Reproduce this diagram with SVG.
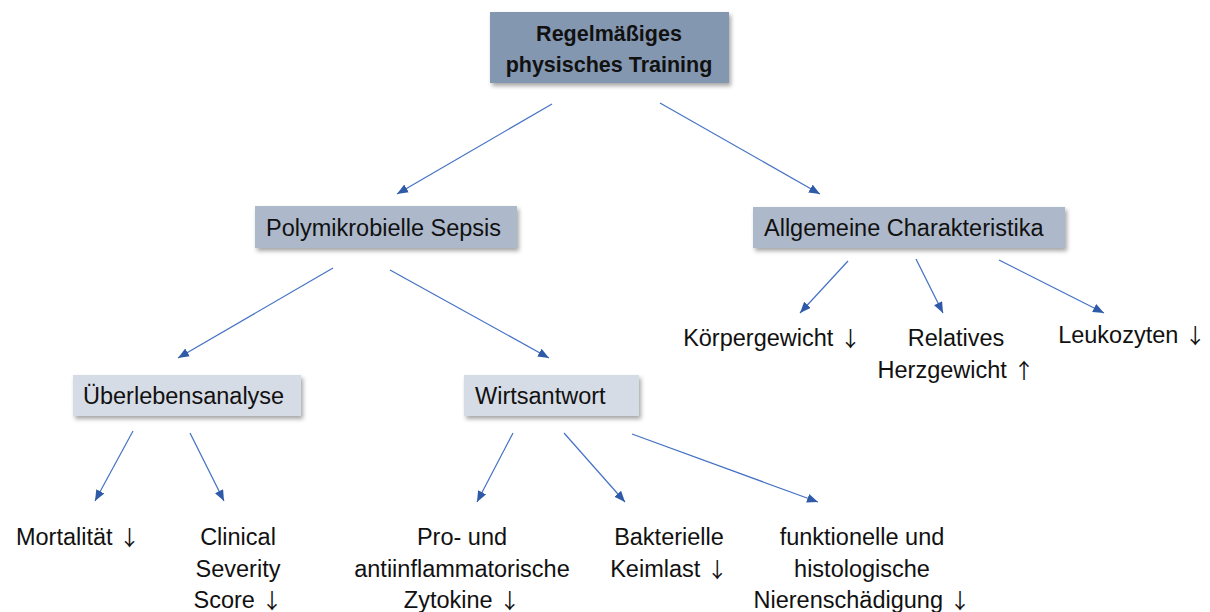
<svg xmlns="http://www.w3.org/2000/svg" width="1210" height="612" viewBox="0 0 1210 612">
<style>
.t{font-family:"Liberation Sans",Arial,sans-serif;font-size:23.5px;fill:#111}
.b{font-weight:bold;font-size:21.5px}
.c{text-anchor:middle}
.a{font-family:"Noto Sans CJK SC","DejaVu Sans",sans-serif;font-size:21px}
.l1{fill:#8497b0}
.l2{fill:#adb9ca}
.l3{fill:#d6dce5}
.conn line{stroke:#4472c4;stroke-width:1.2;marker-end:url(#ah)}
</style>
<defs>
<filter id="sh" x="-10%" y="-20%" width="125%" height="150%">
<feDropShadow dx="2" dy="3" stdDeviation="2" flood-color="#000" flood-opacity="0.35"/>
</filter>
<marker id="ah" markerUnits="userSpaceOnUse" markerWidth="12" markerHeight="10" refX="11" refY="4.5" orient="auto">
<path d="M0,0 L11,4.5 L0,9 z" fill="#2f5aa8"/>
</marker>
</defs>
<rect width="1210" height="612" fill="#fff"/>
<g id="n-training">
<rect class="l1" x="490" y="12" width="239" height="71" filter="url(#sh)"/>
<text class="t b c" x="609" y="41">Regelmäßiges</text>
<text class="t b c" x="609" y="72">physisches Training</text>
</g>
<g id="n-sepsis">
<rect class="l2" x="255" y="206" width="262" height="42" filter="url(#sh)"/>
<text class="t" x="266" y="236">Polymikrobielle Sepsis</text>
</g>
<g id="n-allgemein">
<rect class="l2" x="753" y="207" width="312" height="41" filter="url(#sh)"/>
<text class="t" x="764" y="236">Allgemeine Charakteristika</text>
</g>
<g id="n-ueberleben">
<rect class="l3" x="73" y="375" width="228" height="41" filter="url(#sh)"/>
<text class="t" x="83" y="404">Überlebensanalyse</text>
</g>
<g id="n-wirt">
<rect class="l3" x="464" y="375" width="175" height="41" filter="url(#sh)"/>
<text class="t" x="475" y="404">Wirtsantwort</text>
</g>
<g id="n-koerper"><text class="t c" x="772" y="346">Körpergewicht <tspan class="a">↓</tspan></text></g>
<g id="n-herz"><text class="t c" x="956" y="346">Relatives</text><text class="t c" x="956" y="378">Herzgewicht <tspan class="a">↑</tspan></text></g>
<g id="n-leuko"><text class="t c" x="1132" y="343">Leukozyten <tspan class="a">↓</tspan></text></g>
<g id="n-mort"><text class="t c" x="78" y="545">Mortalität <tspan class="a">↓</tspan></text></g>
<g id="n-css"><text class="t c" x="238" y="545">Clinical</text><text class="t c" x="238" y="577">Severity</text><text class="t c" x="238" y="608">Score <tspan class="a">↓</tspan></text></g>
<g id="n-zyto"><text class="t c" x="462" y="545">Pro- und</text><text class="t c" x="462" y="577">antiinflammatorische</text><text class="t c" x="462" y="608">Zytokine <tspan class="a">↓</tspan></text></g>
<g id="n-keim"><text class="t c" x="669" y="545">Bakterielle</text><text class="t c" x="669" y="577">Keimlast <tspan class="a">↓</tspan></text></g>
<g id="n-niere"><text class="t c" x="862" y="545">funktionelle und</text><text class="t c" x="862" y="577">histologische</text><text class="t c" x="862" y="608">Nierenschädigung <tspan class="a">↓</tspan></text></g>
<g id="connectors" class="conn">
<line x1="552" y1="104" x2="397" y2="194"/>
<line x1="660" y1="103" x2="820" y2="194"/>
<line x1="333" y1="268" x2="178" y2="358"/>
<line x1="390" y1="270" x2="549" y2="358"/>
<line x1="848" y1="261" x2="800" y2="313"/>
<line x1="916" y1="259" x2="943" y2="313"/>
<line x1="999" y1="260" x2="1104" y2="313"/>
<line x1="133" y1="431" x2="95" y2="501"/>
<line x1="190" y1="433" x2="224" y2="501"/>
<line x1="513" y1="433" x2="477" y2="502"/>
<line x1="564" y1="433" x2="625" y2="502"/>
<line x1="632" y1="434" x2="818" y2="502"/>
</g>
</svg>
